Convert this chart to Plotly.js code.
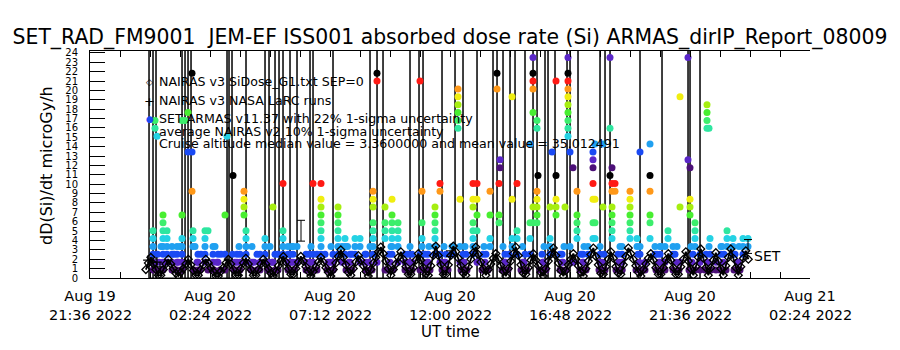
<!DOCTYPE html>
<html><head><meta charset="utf-8">
<script src="https://cdn.plot.ly/plotly-3.0.1.min.js"></script>
<style>html,body{margin:0;padding:0;background:#fff}#chart{width:900px;height:350px}</style>
</head><body><div id="chart"></div>
<script>
// ---------------- DATA ----------------
// SET readings: [hours after 2022-08-20 00:00 UT, dose rate microGy/h]
const setReadings = [
 [0.12,5.04],[0.12,4.2],[0.12,3.36],[0.12,2.52],[0.12,1.68],[0.12,0.84],
 [0.2,16.8],[0.2,15.96],[0.28,15.12],
 [0.52,6.72],[0.52,5.88],[0.52,5.04],[0.52,4.2],[0.52,3.36],[0.52,2.52],[0.52,1.68],[0.52,0.84],
 [0.68,5.04],[0.68,4.2],[0.68,3.36],[0.68,2.52],[0.68,1.68],
 [0.88,3.36],[0.88,2.52],[0.88,1.68],[0.88,0.84],
 [1.08,3.36],[1.08,2.52],[1.08,1.68],[1.08,0.84],
 [1.28,16.8],[1.28,6.72],[1.28,4.2],[1.28,3.36],[1.28,2.52],[1.28,1.68],[1.28,0.84],
 [1.4,16.8],[1.52,17.64],[1.52,13.44],
 [1.68,13.44],[1.68,21.84],[1.68,9.24],
 [1.72,5.04],[1.72,4.2],[1.72,3.36],
 [1.92,2.52],[1.92,1.68],[1.92,0.84],
 [2.2,5.04],[2.2,4.2],[2.2,3.36],[2.2,2.52],[2.2,1.68],
 [2.32,5.04],[2.32,0.84],
 [2.52,3.36],[2.52,2.52],[2.52,1.68],[2.52,0.84],
 [2.72,2.52],[2.72,1.68],
 [3.0,6.72],[3.0,2.52],[3.0,0.84],
 [3.08,15.12],[3.32,10.92],
 [3.48,2.52],[3.48,1.68],[3.48,0.84],[3.6,2.52],[3.6,1.68],
 [3.76,9.24],[3.76,8.4],[3.76,7.56],[3.76,6.72],
 [3.84,5.04],[3.84,4.2],[3.84,3.36],[3.84,2.52],[3.84,1.68],
 [4.08,1.68],[4.08,0.84],
 [4.4,2.52],[4.4,1.68],[4.4,0.84],
 [4.6,4.2],[4.6,3.36],[4.6,2.52],
 [4.72,1.68],[4.72,0.84],
 [4.92,7.56],[4.92,1.68],
 [5.12,2.52],[5.12,0.84],
 [5.32,10.08],[5.32,5.04],[5.32,4.2],[5.32,3.36],[5.32,2.52],
 [5.52,3.36],[5.52,2.52],[5.52,1.68],
 [5.72,3.36],[5.72,2.52],[5.72,1.68],[5.72,0.84],
 [5.88,3.36],[5.88,1.68],
 [6.24,2.52],[6.24,1.68],[6.24,0.84],
 [6.52,10.08],[6.52,2.52],[6.52,1.68],
 [6.68,2.52],[6.68,0.84],
 [6.84,10.08],[6.84,8.4],[6.84,7.56],[6.84,6.72],[6.84,5.88],[6.84,5.04],[6.84,4.2],[6.84,3.36],[6.84,2.52],
 [7.12,1.68],[7.12,0.84],
 [7.32,2.52],[7.32,1.68],[7.32,0.84],
 [7.52,7.56],[7.52,6.72],[7.52,5.88],[7.52,5.04],[7.52,4.2],[7.52,3.36],[7.52,2.52],
 [7.68,3.36],[7.68,1.68],
 [7.8,4.2],[7.8,3.36],[7.8,2.52],
 [8.0,2.52],[8.0,1.68],[8.0,0.84],
 [8.2,4.2],[8.2,3.36],[8.2,2.52],
 [8.4,4.2],[8.4,3.36],[8.4,1.68],
 [8.64,2.52],[8.64,1.68],[8.64,0.84],
 [8.92,9.24],[8.92,8.4],[8.92,7.56],[8.92,5.88],[8.92,5.04],[8.92,4.2],[8.92,3.36],[8.92,2.52],
 [9.08,21.84],[9.08,21.0],[9.08,1.68],
 [9.4,7.56],[9.4,5.88],[9.4,5.04],[9.4,4.2],[9.4,0.84],
 [9.68,8.4],[9.68,6.72],[9.68,5.88],[9.68,5.04],[9.68,4.2],[9.68,3.36],[9.68,2.52],
 [9.92,5.88],[9.92,5.04],[9.92,4.2],[9.92,3.36],[9.92,1.68],
 [10.2,2.52],[10.2,1.68],[10.2,0.84],
 [10.48,2.52],[10.48,1.68],
 [10.8,21.0],[10.8,2.52],[10.8,0.84],
 [10.88,9.24],[10.88,5.88],[10.88,4.2],[10.88,3.36],
 [11.12,2.52],[11.12,1.68],[11.12,0.84],
 [11.4,7.56],[11.4,6.72],[11.4,5.88],[11.4,5.04],[11.4,4.2],[11.4,3.36],[11.4,2.52],
 [11.6,10.08],[11.6,9.24],[11.6,2.52],[11.6,1.68],
 [11.8,1.68],[11.8,0.84],
 [12.08,3.36],[12.08,2.52],
 [12.32,20.16],[12.32,19.32],[12.32,18.48],[12.32,17.64],[12.32,16.8],[12.32,15.96],
 [12.4,8.4],[12.4,3.36],[12.4,1.68],
 [12.64,2.52],[12.64,0.84],
 [12.92,10.08],[12.92,8.4],[12.92,7.56],[12.92,5.88],[12.92,5.04],[12.92,4.2],[12.92,3.36],[12.92,2.52],
 [13.08,10.08],[13.08,8.4],[13.08,6.72],[13.08,5.04],[13.08,1.68],
 [13.32,2.52],[13.32,0.84],
 [13.6,9.24],[13.6,6.72],[13.6,4.2],[13.6,3.36],
 [13.88,21.84],[13.88,20.16],
 [13.96,10.08],[13.96,6.72],[13.96,5.88],
 [14.0,12.6],[14.0,11.76],
 [14.2,2.52],[14.2,1.68],[14.2,0.84],
 [14.48,19.32],[14.48,8.4],[14.48,4.2],[14.48,3.36],
 [14.68,10.08],[14.68,5.04],[14.68,4.2],[14.68,2.52],
 [14.92,1.68],[14.92,0.84],
 [15.2,14.28],[15.2,5.88],[15.2,4.2],[15.2,2.52],
 [15.32,23.52],[15.32,21.84],[15.32,21.0],[15.32,20.16],[15.32,17.64],[15.32,7.56],[15.32,5.88],
 [15.48,16.8],[15.48,15.96],[15.48,9.24],[15.48,8.4],[15.48,7.56],[15.48,6.72],[15.48,5.88],
 [15.52,10.92],
 [15.72,1.68],[15.72,0.84],
 [16.0,7.56],[16.0,4.2],[16.0,3.36],[16.0,2.52],
 [16.08,13.44],
 [16.24,21.0],[16.24,10.92],[16.24,8.4],[16.24,7.56],[16.24,6.72],
 [16.48,2.52],[16.48,1.68],[16.48,0.84],
 [16.6,7.56],
 [16.72,23.52],[16.72,21.84],[16.72,21.0],[16.72,20.16],[16.72,19.32],[16.72,18.48],[16.72,17.64],[16.72,16.8],[16.72,15.96],[16.72,15.12],
 [16.8,13.44],[16.8,3.36],
 [16.92,11.76],[16.92,1.68],
 [17.08,9.24],[17.08,6.72],[17.08,5.88],[17.08,5.04],[17.08,4.2],
 [17.32,2.52],[17.32,1.68],[17.32,0.84],
 [17.52,3.36],[17.52,2.52],
 [17.72,13.44],[17.72,12.6],[17.72,11.76],[17.72,10.08],[17.72,8.4],[17.72,5.88],[17.72,4.2],
 [17.8,14.28],[17.8,8.4],[17.8,5.88],[17.8,4.2],
 [18.0,2.52],[18.0,1.68],[18.0,0.84],
 [18.12,14.28],[18.12,7.56],
 [18.4,23.52],[18.4,15.96],[18.4,10.92],
 [18.48,11.76],[18.48,10.08],[18.48,9.24],[18.48,7.56],[18.48,6.72],[18.48,5.88],[18.48,5.04],[18.48,4.2],
 [18.6,10.08],[18.6,9.24],
 [18.88,3.36],[18.88,2.52],[18.88,1.68],[18.88,0.84],
 [19.2,9.24],[19.2,8.4],[19.2,7.56],[19.2,6.72],[19.2,5.88],[19.2,5.04],[19.2,4.2],
 [19.48,4.2],[19.48,3.36],
 [19.6,13.44],[19.6,2.52],
 [19.8,1.68],[19.8,0.84],
 [20.0,14.28],[20.0,10.92],[20.0,9.24],[20.0,6.72],[20.0,5.88],[20.0,4.2],
 [20.2,3.36],[20.2,2.52],
 [20.4,3.36],[20.4,2.52],[20.4,1.68],
 [20.6,3.36],[20.6,1.68],[20.6,0.84],
 [20.72,5.04],[20.72,4.2],
 [20.92,3.36],[20.92,2.52],
 [21.2,19.32],[21.2,7.56],[21.2,1.68],
 [21.52,23.52],[21.52,12.6],
 [21.6,11.76],[21.6,8.4],[21.6,7.56],[21.6,6.72],
 [21.8,5.88],[21.8,5.04],[21.8,4.2],[21.8,3.36],
 [22.0,2.52],[22.0,1.68],[22.0,0.84],
 [22.28,18.48],[22.28,17.64],[22.28,16.8],[22.28,15.96],[22.36,15.96],
 [22.4,4.2],[22.4,2.52],
 [22.64,1.68],[22.64,0.84],
 [22.84,3.36],[22.84,2.52],
 [23.08,5.04],[23.08,4.2],[23.08,3.36],
 [23.32,4.2],[23.32,3.36],[23.32,2.52],
 [23.52,1.68],[23.52,0.84],
 [23.72,4.2],[23.72,3.36],[23.72,2.52],
 [23.92,4.2],[23.92,3.36],
 // low readings between the model peaks
 [0.24,0.84],[0.48,0.84],[0.36,1.68],[0.3,2.52],[0.44,3.36],
 [1.0,0.84],[1.24,0.84],[1.12,1.68],[0.96,2.52],[1.2,3.36],
 [1.76,0.84],[2.0,0.84],[1.88,1.68],[2.04,2.52],[1.8,3.36],
 [2.56,0.84],[2.8,0.84],[2.68,1.68],[2.84,2.52],[2.6,3.36],
 [3.36,0.84],[3.6,0.84],[3.4,1.68],[3.3,2.52],[3.56,3.36],
 [4.04,0.84],[4.28,0.84],[4.16,1.68],[4.28,2.52],[4.08,3.36],
 [4.76,0.84],[5.0,0.84],[4.88,1.68],[5.0,2.52],[4.8,3.36],
 [5.52,0.84],[5.76,0.84],[5.64,1.68],[5.6,2.52],[5.68,3.36],
 [6.28,0.84],[6.52,0.84],[6.4,1.68],[6.36,2.52],[6.44,3.36],
 [7.08,0.84],[7.32,0.84],[7.2,1.68],[7.0,2.52],[7.24,3.36],
 [7.84,0.84],[8.08,0.84],[7.96,1.68],[8.08,2.52],[7.9,3.36],
 [8.64,0.84],[8.88,0.84],[8.76,1.68],[8.6,2.52],[8.8,3.36],
 [9.48,0.84],[9.72,0.84],[9.6,1.68],[9.56,2.52],[9.64,3.36],
 [10.24,0.84],[10.48,0.84],[10.36,1.68],[10.32,2.52],[10.4,3.36],
 [10.96,0.84],[11.2,0.84],[11.08,1.68],[11.0,2.52],[11.16,3.36],
 [11.68,0.84],[11.92,0.84],[11.8,1.68],[11.84,2.52],[11.76,3.36],
 [12.44,0.84],[12.68,0.84],[12.56,1.68],[12.52,2.52],[12.6,3.36],
 [13.28,0.84],[13.52,0.84],[13.4,1.68],[13.44,2.52],[13.36,3.36],
 [14.08,0.84],[14.32,0.84],[14.2,1.68],[14.36,2.52],[14.12,3.36],
 [14.84,0.84],[15.08,0.84],[14.96,1.68],[15.0,2.52],[14.9,3.36],
 [15.6,0.84],[15.84,0.84],[15.72,1.68],[15.68,2.52],[15.76,3.36],
 [16.4,0.84],[16.64,0.84],[16.52,1.68],[16.4,2.52],[16.56,3.36],
 [17.2,0.84],[17.44,0.84],[17.32,1.68],[17.24,2.52],[17.36,3.36],
 [17.96,0.84],[18.2,0.84],[18.08,1.68],[18.16,2.52],[18.0,3.36],
 [18.64,0.84],[18.88,0.84],[18.76,1.68],[18.72,2.52],[18.8,3.36],
 [19.44,0.84],[19.68,0.84],[19.56,1.68],[19.52,2.52],[19.6,3.36],
 [20.24,0.84],[20.48,0.84],[20.36,1.68],[20.28,2.52],[20.44,3.36],
 [20.92,0.84],[21.16,0.84],[21.04,1.68],[21.0,2.52],[21.08,3.36],
 [21.56,0.84],[21.8,0.84],[21.68,1.68],[21.72,2.52],[21.64,3.36],
 [22.2,0.84],[22.44,0.84],[22.32,1.68],[22.24,2.52],[22.36,3.36],
 [22.8,0.84],[23.04,0.84],[22.92,1.68],[22.96,2.52],[22.88,3.36],
 [23.36,0.84],[23.6,0.84],[23.48,1.68],[23.4,2.52],[23.56,3.36]
];
// off-scale SET excursions: hour and estimated peak dose rate (microGy/h)
const spikeHours = [-0.04,0.12,0.24,1.28,1.4,1.52,1.64,3.08,3.16,3.28,3.84,4.6,4.76,5.0,5.16,5.32,5.6,5.88,6.4,6.52,7.32,8.8,9.08,9.32,10.4,10.76,10.92,11.68,12.2,12.52,13.08,13.72,13.88,14.12,14.4,14.6,15.0,15.32,15.48,15.8,15.92,16.2,16.68,16.8,17.12,18.0,18.2,18.4,19.6,20.48,21.52,21.6,22.0];
const spikePeak  = [40,35,30,60,55,45,50,40,30,35,28,45,40,38,42,30,33,29,36,40,31,44,50,37,29,33,48,30,41,35,39,32,55,36,30,47,28,60,52,34,44,31,58,40,30,36,45,50,33,29,46,40,35];

// NAIRAS v3 SiDose model (diamonds): first sample time, cadence (minutes) and dose rates
const nairasStart = '2022-08-19 23:50';
const nairasStepMin = 6;
const nairasDose = [
 0.9,1.6,2.2,1.5,0.9,0.3,0.3,0.9,1.5,2.0,
 1.5,1.0,0.5,0.2,0.6,1.0,1.5,2.0,
 1.4,0.8,0.3,0.3,0.9,1.4,2.0,
 1.6,1.1,0.7,0.2,0.2,0.7,1.1,1.6,2.0,
 1.5,0.9,0.3,0.3,1.0,1.6,2.1,
 1.5,0.9,0.3,0.3,0.9,1.5,2.0,
 1.5,1.0,0.5,0.2,0.7,1.3,1.8,2.3,
 1.7,1.0,0.4,0.4,1.0,1.7,2.3,
 1.8,1.2,0.7,0.2,0.7,1.2,1.7,2.2,
 1.7,1.1,0.6,0.2,0.9,1.6,2.3,3.0,
 2.2,1.4,0.6,0.3,1.0,1.7,2.4,
 1.9,1.3,0.7,0.2,0.9,1.6,2.2,2.8,3.3,
 2.6,1.8,1.0,0.3,0.9,1.5,2.2,2.8,
 2.0,1.2,0.4,0.4,1.1,1.9,2.6,
 1.9,1.1,0.4,0.3,1.3,2.4,3.4,
 2.4,1.4,0.4,0.4,1.4,2.4,3.4,
 2.8,2.1,1.3,0.5,0.3,1.2,2.0,2.7,3.3,
 2.5,1.7,1.0,0.3,0.9,1.5,2.1,2.6,
 2.0,1.3,0.7,0.2,1.0,1.8,2.6,3.3,
 2.4,1.4,0.5,0.4,1.1,1.9,2.6,
 1.9,1.3,0.6,0.2,1.0,1.8,2.5,3.2,
 2.4,1.6,0.8,0.2,0.8,1.4,2.0,2.6,
 2.0,1.3,0.6,0.2,1.0,1.8,2.5,3.2,
 2.3,1.4,0.5,0.4,1.2,2.0,2.8,
 2.1,1.2,0.5,0.4,1.4,2.3,3.2,
 2.6,2.0,1.3,0.6,0.2,0.9,1.5,2.1,2.6,
 1.9,1.1,0.4,0.4,1.1,1.9,2.6,
 1.9,1.1,0.4,0.4,1.2,2.0,2.8,
 1.8,1.0,0.3,1.2,2.2,3.1,
 2.1,1.1,0.3,1.1,1.9,2.7,
 1.8,1.0,0.3,1.3,2.2,3.1,
 2.1,1.1,0.3,1.2,2.1,2.9,2.0
];
// NAIRAS v3 NASA LaRC runs (plus signs)
const larcHours = [-0.08,0.08,0.28,0.4];
const larcDose  = [1.9,1.7,1.7,1.2];
// uncertainty bars: hour, centre dose, 1-sigma
const errHours = [6.04,12.0,23.92];
const errDose  = [5.04,2.6,3.36];
const errSigma = [1.11,0.3,0.74];

const tickDates = ['2022-08-19 21:36','2022-08-20 02:24','2022-08-20 07:12','2022-08-20 12:00','2022-08-20 16:48','2022-08-20 21:36','2022-08-21 02:24'];
const tickDays  = ['Aug 19','Aug 20','Aug 20','Aug 20','Aug 20','Aug 20','Aug 21'];
const tickTimes = ['21:36 2022','02:24 2022','07:12 2022','12:00 2022','16:48 2022','21:36 2022','02:24 2022'];
const yTicks = [0,1,2,3,4,5,6,7,8,9,10,11,12,13,14,15,16,17,18,19,20,21,22,23,24];

// ---------------- BUILD ----------------
const T0 = Date.UTC(2022,7,20);
function iso(ms){ return new Date(ms).toISOString().replace('T',' ').replace('Z',''); }
function hd(h){ return iso(T0 + h*3600000); }
const palette = ['#000000','#4c1078','#5a26c8','#1a4af4','#20a0f0','#24d2e4','#2ee6a0','#3cee6c','#48ee30','#a6ee10','#f0ee10','#ff9818','#ff1a14'];
function col(d){ return palette[Math.round(d/0.84) % 13]; }

const sx=[], sy=[];
spikeHours.forEach((h,i)=>{ sx.push(hd(h),hd(h),hd(h+0.004)); sy.push(0,spikePeak[i],0); });

const nStart = new Date(nairasStart.replace(' ','T')+':00Z').getTime();
const nx = nairasDose.map((d,i)=> iso(nStart + i*nairasStepMin*60000));

const traces = [
 {type:'scatter', mode:'lines', x:sx, y:sy, line:{color:'#000', width:1}, hoverinfo:'skip'},
 {type:'scatter', mode:'markers', x:setReadings.map(r=>hd(r[0])), y:setReadings.map(r=>r[1]),
  marker:{size:7, color:setReadings.map(r=>col(r[1])), line:{width:0}}},
 {type:'scatter', mode:'lines+markers', x:nx, y:nairasDose, line:{color:'#000', width:1.8},
  marker:{symbol:'diamond-open', size:6, color:'#000', line:{width:1.3}}},
 {type:'scatter', mode:'markers', x:larcHours.map(hd), y:larcDose, marker:{symbol:'cross-thin-open', size:7, color:'#000', line:{width:1.2}}},
 {type:'scatter', mode:'markers', x:errHours.map(hd), y:errDose, marker:{size:1, color:'rgba(0,0,0,0)'},
  error_y:{type:'data', array:errSigma, visible:true, color:'#000', thickness:1, width:4}}
];

const fam = 'DejaVu Sans, sans-serif';
function px(x){ return (x-90)/720; } function py(y){ return (278-y)/227; }
const notes = [
 ['NAIRAS v3 SiDose_G1.txt SEP=0', 81],
 ['NAIRAS v3 NASA LaRC runs', 100],
 ['SET ARMAS v11.37 with 22% 1-sigma uncertainty', 118.5],
 ['average NAIRAS v2 10% 1-sigma uncertainty', 131],
 ['Cruise altitude median value = 3.3600000 and mean value = 35.012491', 143.5]
].map(n=>({xref:'paper', yref:'paper', x:px(157), y:py(n[1]), xanchor:'left', yanchor:'middle', text:n[0], showarrow:false, font:{family:fam, size:12.6, color:'#000'}}));
notes.push({xref:'paper', yref:'paper', x:px(149), y:py(82), xanchor:'center', yanchor:'middle', text:'◇', showarrow:false, font:{family:fam, size:9, color:'#000'}});
notes.push({xref:'paper', yref:'paper', x:px(149), y:py(101), xanchor:'center', yanchor:'middle', text:'+', showarrow:false, font:{family:fam, size:13, color:'#000'}});
notes.push({xref:'paper', yref:'paper', x:px(150), y:py(119), xanchor:'center', yanchor:'middle', text:'●', showarrow:false, font:{family:fam, size:9, color:'#1a4af4'}});
notes.push({xref:'paper', yref:'paper', x:px(752), y:py(256), xanchor:'left', yanchor:'middle', text:'SET', showarrow:false, font:{family:fam, size:14, color:'#000'}});
// second line of the time-axis labels and the axis titles
tickDates.forEach((d,i)=> notes.push({xref:'x', yref:'paper', x:d, y:py(315), xanchor:'center', yanchor:'middle', text:tickTimes[i], showarrow:false, font:{family:fam, size:14.5, color:'#000'}}));
notes.push({xref:'paper', yref:'paper', x:0.5, y:py(332), xanchor:'center', yanchor:'middle', text:'UT time', showarrow:false, font:{family:fam, size:15, color:'#000'}});
notes.push({xref:'paper', yref:'paper', x:px(46), y:py(166), xanchor:'center', yanchor:'middle', textangle:-90, text:'dD(Si)/dt microGy/h', showarrow:false, font:{family:fam, size:16, color:'#000'}});

const layout = {
 width:900, height:350, paper_bgcolor:'#fff', plot_bgcolor:'#fff', showlegend:false,
 margin:{l:90, r:90, t:51, b:72},
 font:{family:fam, color:'#000'},
 title:{text:'SET_RAD_FM9001  JEM-EF ISS001 absorbed dose rate (Si) ARMAS_dirIP_Report_08009', x:0.5, xanchor:'center', y:1-37/350, yanchor:'middle', yref:'container', font:{family:fam, size:20.4, color:'#000'}},
 xaxis:{type:'date', range:[tickDates[0], tickDates[6]], tickmode:'array', tickvals:tickDates, ticktext:tickDays,
   ticks:'inside', ticklen:6, tickcolor:'#000', showline:true, linecolor:'#000', linewidth:1, mirror:'ticks', showgrid:false, zeroline:false,
   tickfont:{family:fam, size:14.5}, ticklabelstandoff:5,
   minor:{dtick:4320000, tick0:tickDates[0], ticks:'inside', ticklen:6, tickcolor:'#000', showgrid:false}},
 yaxis:{range:[0,24.2], tickmode:'array', tickvals:yTicks, ticktext:yTicks.map(String), ticks:'inside', ticklen:15, tickcolor:'#000',
   showline:true, linecolor:'#000', linewidth:1, showgrid:false, zeroline:false, tickfont:{family:fam, size:10}, ticklabelstandoff:9},
 annotations:notes
};
Plotly.newPlot('chart', traces, layout, {staticPlot:true});
</script></body></html>
